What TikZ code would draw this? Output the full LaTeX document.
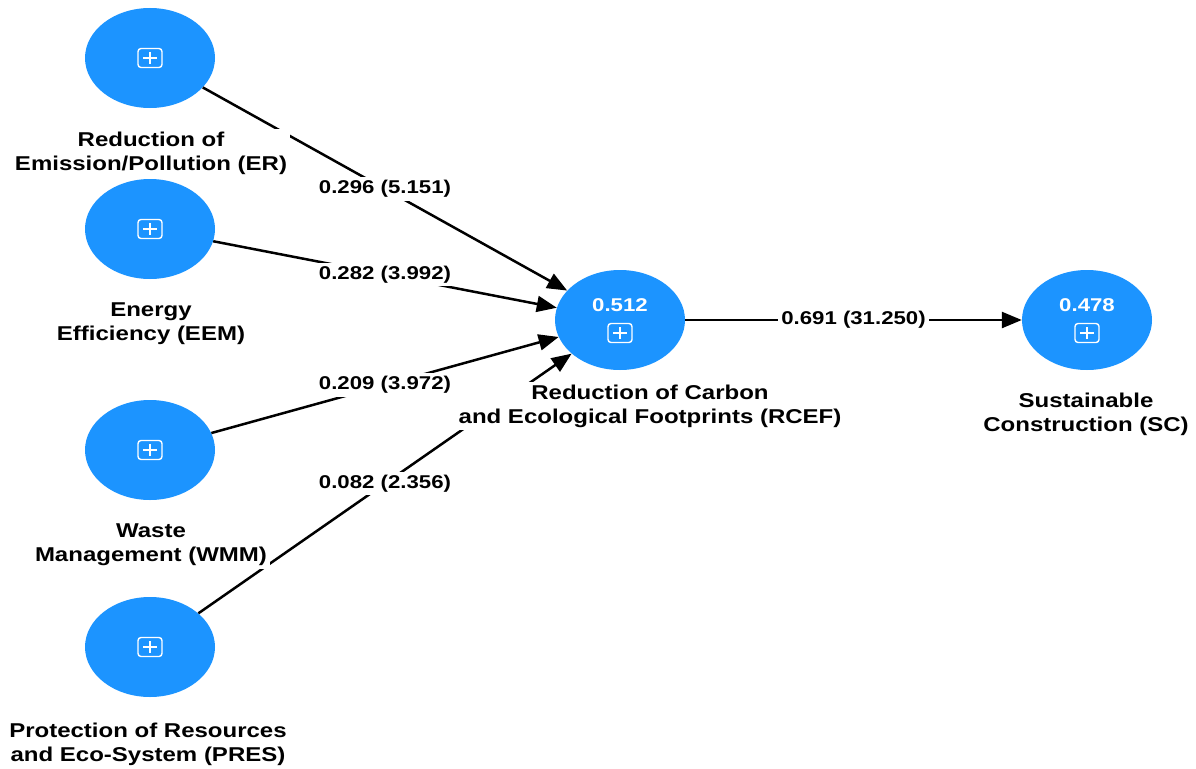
\documentclass[tikz,border=0pt]{standalone}
\usepackage{fontspec}
\newfontfamily\lblfont{Liberation Sans}[FakeStretch=1.2]
\usetikzlibrary{arrows.meta,shapes.geometric}
\definecolor{plsblue}{RGB}{28,148,255}
\tikzset{
  lv/.style={ellipse, fill=plsblue, minimum width=130pt, minimum height=100pt, inner sep=0pt},
  nlab/.style={fill=white, align=center, text=black, inner sep=3pt,
    font={\lblfont\bfseries\fontsize{20}{24}\selectfont}},
  elab/.style={fill=white, text=black, inner sep=3pt,
    font={\lblfont\bfseries\fontsize{18.5}{22}\selectfont}},
  val/.style={text=white, inner sep=1pt,
    font={\lblfont\bfseries\fontsize{18.5}{22}\selectfont}},
  pth/.style={line width=2.5pt, draw=black, -{Triangle[length=20pt,width=16pt]}},
  plusicon/.pic={
    \draw[white, line width=1.4pt, rounded corners=3pt] (-12,-9.5) rectangle (12,9.5);
    \draw[white, line width=1.4pt] (-7,0) -- (7,0) (0,-6) -- (0,6);
  }
}
\begin{document}
\begin{tikzpicture}[x=1pt,y=-1pt]
\useasboundingbox (0,0) rectangle (1196,768);
% latent variables
\node[lv] (ER) at (150,58) {};
\node[lv] (EEM) at (150,229) {};
\node[lv] (WMM) at (150,450) {};
\node[lv] (PRES) at (150,647) {};
\node[lv] (RCEF) at (620,320) {};
\node[lv] (SC) at (1087,320) {};
% icons and values
\pic at (ER) {plusicon};
\pic at (EEM) {plusicon};
\pic at (WMM) {plusicon};
\pic at (PRES) {plusicon};
\pic at ([yshift=-13pt]RCEF.center) {plusicon};
\pic at ([yshift=-13pt]SC.center) {plusicon};
\node[val] (RCEFv) at (620,305) {0.512};
\node[val] (SCv) at (1087,305) {0.478};
% paths
\draw[pth] (ER) -- node[elab] (e1) {0.296 (5.151)} (RCEF);
\draw[pth] (EEM) -- node[elab] (e2) {0.282 (3.992)} (RCEF);
\draw[pth] (WMM) -- node[elab] (e3) {0.209 (3.972)} (RCEF);
\draw[pth] (PRES) -- node[elab] (e4) {0.082 (2.356)} (RCEF);
\draw[pth] (RCEF) -- node[elab] (e5) {0.691 (31.250)} (SC);
% labels
\node[nlab] (ERl) at (151,153) {Reduction of\\Emission/Pollution (ER)};
\node[nlab] (EEMl) at (151,324) {Energy\\Efficiency (EEM)};
\node[nlab] (WMMl) at (151,545) {Waste\\Management (WMM)};
\node[nlab] (PRESl) at (148,744) {Protection of Resources\\and Eco-System (PRES)};
\node[nlab] (RCEFl) at (650,406) {Reduction of Carbon\\and Ecological Footprints (RCEF)};
\node[nlab] (SCl) at (1086,414) {Sustainable\\Construction (SC)};
\end{tikzpicture}
\end{document}
